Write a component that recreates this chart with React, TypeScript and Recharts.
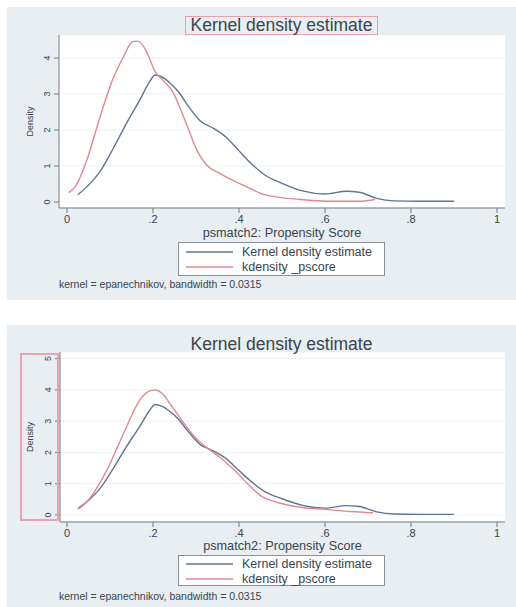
import React from 'react'
import { LineChart, Line, XAxis, YAxis, CartesianGrid, Legend } from 'recharts'

const xTicks = [0, 0.2, 0.4, 0.6, 0.8, 1]
const xTickLabels = ['0', '.2', '.4', '.6', '.8', '1']
const topYTicks = [0, 1, 2, 3, 4]
const bottomYTicks = [0, 1, 2, 3, 4, 5]

// treated group kernel density (same curve in both panels)
const kdeX = [0.025, 0.046, 0.077, 0.108, 0.139, 0.17, 0.19, 0.205, 0.22, 0.24, 0.26, 0.28, 0.31, 0.34, 0.37, 0.4, 0.43, 0.46, 0.5, 0.55, 0.6, 0.65, 0.68, 0.72, 0.76, 0.82, 0.9]
const kdeY = [0.2, 0.42, 0.85, 1.5, 2.2, 2.85, 3.3, 3.53, 3.48, 3.3, 3.05, 2.7, 2.25, 2.05, 1.8, 1.42, 1.05, 0.75, 0.52, 0.3, 0.22, 0.3, 0.27, 0.1, 0.03, 0.02, 0.02]

// _pscore before matching
const topPscoreX = [0.004, 0.019, 0.046, 0.077, 0.108, 0.132, 0.151, 0.162, 0.176, 0.19, 0.205, 0.22, 0.248, 0.265, 0.286, 0.302, 0.325, 0.356, 0.402, 0.464, 0.542, 0.619, 0.681, 0.716]
const topPscoreY = [0.26, 0.42, 1.16, 2.37, 3.45, 4.05, 4.44, 4.47, 4.36, 4.05, 3.62, 3.42, 3.02, 2.55, 1.91, 1.44, 1.02, 0.79, 0.51, 0.19, 0.07, 0.02, 0.02, 0.07]

// _pscore after matching
const bottomPscoreX = [0.029, 0.054, 0.093, 0.132, 0.17, 0.19, 0.205, 0.22, 0.245, 0.271, 0.3, 0.33, 0.36, 0.39, 0.42, 0.45, 0.49, 0.53, 0.6, 0.66, 0.712]
const bottomPscoreY = [0.21, 0.55, 1.44, 2.62, 3.69, 3.95, 4.0, 3.9, 3.45, 2.95, 2.45, 2.1, 1.8, 1.42, 1.0, 0.62, 0.4, 0.27, 0.18, 0.11, 0.07]

const seriesNames = ['Kernel density estimate', 'kdensity _pscore']
const titleText = 'Kernel density estimate'
const xLabel = 'psmatch2: Propensity Score'
const yLabel = 'Density'
const noteText = 'kernel = epanechnikov, bandwidth = 0.0315'

const FONT = '"Liberation Sans", Arial, sans-serif'
const BLUE = '#5f7591'
const RED = '#de8890'
const INK = '#3a444f'
const AXIS = '#737b84'
const PANEL = '#e8eef1'

const zip = (xs: number[], ys: number[]) => xs.map((x, i) => ({ x, y: ys[i] }))

function RotatedTick(props: any) {
  const { x, y, payload } = props
  const tx = x - 2
  return (
    <text x={tx} y={y} transform={`rotate(-90 ${tx} ${y})`} textAnchor="middle" fontSize={9} fill={INK} fontFamily={FONT}>
      {payload.value}
    </text>
  )
}

function LegendBox({ payload, height }: any) {
  const items = payload && payload.length ? payload : seriesNames.map((n, i) => ({ value: n, color: i ? RED : BLUE }))
  return (
    <div style={{ width: 207, height, boxSizing: 'border-box', border: '1px solid #8a9097', background: '#fff', paddingTop: height > 32 ? 2 : 1 }}>
      {items.map((it: any) => (
        <div key={it.value} style={{ display: 'flex', alignItems: 'center', height: 14.5 }}>
          <svg width={57} height={6} style={{ marginLeft: 6 }}>
            <line x1={1} y1={3} x2={48} y2={3} stroke={it.color} strokeWidth={1.4} />
          </svg>
          <span style={{ fontSize: 12.5, color: INK, fontFamily: FONT, whiteSpace: 'nowrap' }}>{it.value}</span>
        </div>
      ))}
    </div>
  )
}

interface PanelProps {
  top: number
  height: number
  plotTop: number
  plotBottom: number
  axisLeft: number
  xDomain: [number, number]
  yDomain: [number, number]
  yTicks: number[]
  pscore: Array<{ x: number; y: number }>
  legendTop: number
  legendHeight: number
  xLabelOffset: number
}

function Panel({ top, height, plotTop, plotBottom, axisLeft, xDomain, yDomain, yTicks, pscore, legendTop, legendHeight, xLabelOffset }: PanelProps) {
  const xAxisH = 30
  // the legend's measured height is added to the bottom offset by recharts, so take it back out
  const bottom = height - plotBottom - xAxisH - legendHeight
  return (
    <div style={{ position: 'absolute', left: 0, top, width: 516, height }}>
      <LineChart width={516} height={height} margin={{ top: plotTop, right: 11, left: 0, bottom }}>
        <CartesianGrid vertical={false} stroke="#edf1f3" fill="#ffffff" fillOpacity={1} />
        <XAxis
          type="number"
          dataKey="x"
          domain={xDomain}
          allowDataOverflow
          ticks={xTicks}
          tickFormatter={(v) => xTickLabels[xTicks.indexOf(v)] ?? String(v)}
          height={xAxisH}
          stroke={AXIS}
          tickSize={5}
          tick={{ fontSize: 11, fill: INK, fontFamily: FONT }}
          label={{ value: xLabel, position: 'insideBottom', offset: xLabelOffset, fontSize: 12.7, fill: INK, fontFamily: FONT }}
        />
        <YAxis
          type="number"
          dataKey="y"
          domain={yDomain}
          allowDataOverflow
          ticks={yTicks}
          width={axisLeft}
          stroke={AXIS}
          tickSize={5}
          tick={<RotatedTick />}
          label={{ value: yLabel, angle: -90, position: 'center', fontSize: 9, fill: INK, fontFamily: FONT }}
        />
        <Line data={zip(kdeX, kdeY)} dataKey="y" name={seriesNames[0]} type="monotone" stroke={BLUE} strokeWidth={1.4} dot={false} isAnimationActive={false} />
        <Line data={pscore} dataKey="y" name={seriesNames[1]} type="monotone" stroke={RED} strokeWidth={1.4} dot={false} isAnimationActive={false} />
        <Legend
          wrapperStyle={{ position: 'absolute', left: 178, top: legendTop, width: 207, height: legendHeight }}
          content={(p: any) => <LegendBox payload={p.payload} height={legendHeight} />}
        />
      </LineChart>
    </div>
  )
}

export default function App() {
  return (
    <div style={{ position: 'relative', width: 516, height: 607, background: '#fff', overflow: 'hidden', fontFamily: FONT }}>
      <style>{'body{margin:0}'}</style>
      <div style={{ position: 'absolute', left: 7, top: 7, width: 509, height: 293, background: PANEL }} />
      <div style={{ position: 'absolute', left: 7, top: 325, width: 509, height: 282, background: PANEL }} />

      <Panel
        top={0}
        height={300}
        plotTop={35}
        plotBottom={208}
        axisLeft={59}
        xDomain={[-0.0186, 1.0186]}
        yDomain={[-0.167, 4.64]}
        yTicks={topYTicks}
        pscore={zip(topPscoreX, topPscoreY)}
        legendTop={242}
        legendHeight={34}
        xLabelOffset={1}
      />
      <Panel
        top={300}
        height={307}
        plotTop={52}
        plotBottom={222}
        axisLeft={60}
        xDomain={[-0.0163, 1.0186]}
        yDomain={[-0.224, 5.21]}
        yTicks={bottomYTicks}
        pscore={zip(bottomPscoreX, bottomPscoreY)}
        legendTop={255}
        legendHeight={31}
        xLabelOffset={2}
      />

      <div style={{ position: 'absolute', left: 185, top: 16, width: 193, height: 19, boxSizing: 'border-box', border: '1px solid #eaa0a8', textAlign: 'center', fontSize: 17.5, lineHeight: '17px', color: INK, whiteSpace: 'nowrap' }}>
        {titleText}
      </div>
      <div style={{ position: 'absolute', left: 185, top: 335, width: 193, height: 19, textAlign: 'center', fontSize: 17.5, lineHeight: '19px', color: INK, whiteSpace: 'nowrap' }}>
        {titleText}
      </div>
      <div style={{ position: 'absolute', left: 20, top: 353, width: 39, height: 168, boxSizing: 'border-box', border: '2px solid #e9a3b1' }} />

      <div style={{ position: 'absolute', left: 59, top: 278, fontSize: 10.5, lineHeight: '12px', color: INK, whiteSpace: 'nowrap' }}>{noteText}</div>
      <div style={{ position: 'absolute', left: 59, top: 590, fontSize: 10.5, lineHeight: '12px', color: INK, whiteSpace: 'nowrap' }}>{noteText}</div>
    </div>
  )
}
